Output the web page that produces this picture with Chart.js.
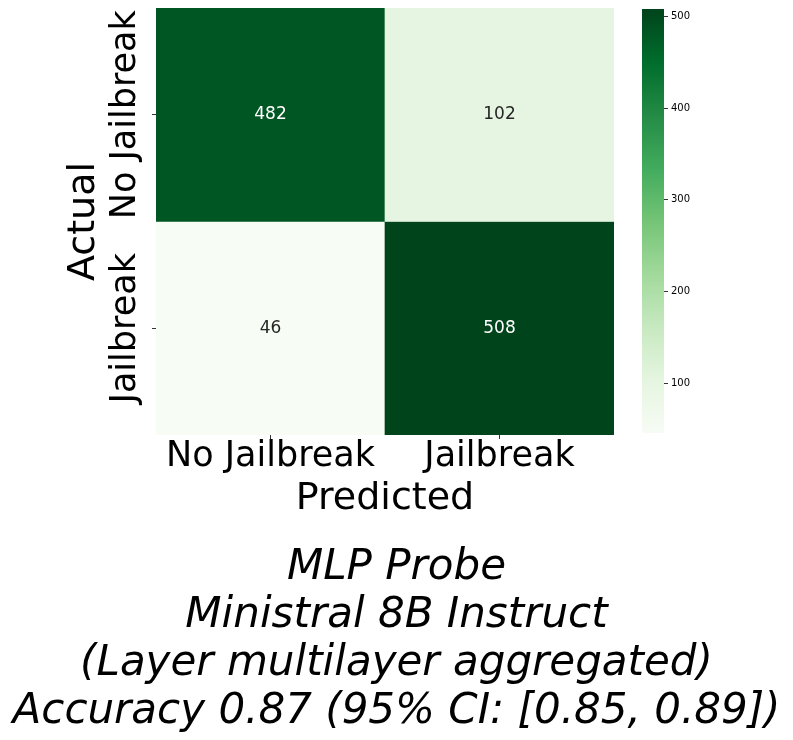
<!DOCTYPE html>
<html lang="en">
<head>
    <meta charset="UTF-8">
    <title>MLP Probe confusion matrix</title>
    <style>
        body {
            margin: 0;
            background-color: #ffffff;
        }
        #wrap {
            position: relative;
            width: 793px;
            height: 740px;
        }
        #matrixChart {
            position: absolute;
            left: 0;
            top: 0;
        }
        #colorbarChart {
            position: absolute;
            left: 600px;
            top: 0;
        }
    </style>
</head>
<body>
    <div id="wrap">
        <canvas id="matrixChart" width="793" height="740"></canvas>
        <canvas id="colorbarChart" width="104" height="445"></canvas>
    </div>

    <script src="https://cdn.jsdelivr.net/npm/chart.js@4.4.3/dist/chart.umd.min.js"></script>

    <script>
        // data
        const predictedLabels = ['No Jailbreak', 'Jailbreak'];
        const actualLabels = ['No Jailbreak', 'Jailbreak'];
        const actualNoJailbreak = [482, 102];
        const actualJailbreak = [46, 508];
        const colorbarTicks = [100, 200, 300, 400, 500];
        const titleLines = [
            'MLP Probe',
            'Ministral 8B Instruct',
            '(Layer multilayer aggregated)',
            'Accuracy 0.87 (95% CI: [0.85, 0.89])'
        ];

        const rows = [actualNoJailbreak, actualJailbreak];
        const vmin = Math.min(...rows.flat());
        const vmax = Math.max(...rows.flat());

        // matplotlib "Greens"
        const greens = ['#f7fcf5', '#e5f5e0', '#c7e9c0', '#a1d99b', '#74c476',
                        '#41ab5d', '#238b45', '#006d2c', '#00441b'];

        function hexToRgb(h) {
            return [parseInt(h.slice(1, 3), 16), parseInt(h.slice(3, 5), 16), parseInt(h.slice(5, 7), 16)];
        }

        function cmap(v) {
            let t = (v - vmin) / (vmax - vmin);
            t = Math.max(0, Math.min(1, t)) * (greens.length - 1);
            const i = Math.min(Math.floor(t), greens.length - 2);
            const f = t - i;
            const a = hexToRgb(greens[i]);
            const b = hexToRgb(greens[i + 1]);
            const c = a.map((x, k) => Math.round(x + (b[k] - x) * f));
            return 'rgb(' + c.join(',') + ')';
        }

        const FONT = "'DejaVu Sans', sans-serif";

        // write the counts in the middle of each cell
        const cellText = {
            id: 'cellText',
            afterDatasetsDraw(chart) {
                const ctx = chart.ctx;
                ctx.save();
                ctx.font = '17px ' + FONT;
                ctx.textAlign = 'center';
                ctx.textBaseline = 'middle';
                chart.data.datasets.forEach((ds, di) => {
                    chart.getDatasetMeta(di).data.forEach((bar, i) => {
                        const v = rows[di][i];
                        const t = (v - vmin) / (vmax - vmin);
                        ctx.fillStyle = t > 0.5 ? '#ffffff' : '#262626';
                        ctx.fillText(String(v), bar.x, (bar.y + bar.base) / 2);
                    });
                });
                ctx.restore();
            }
        };

        const matrixDatasets = rows.map((vals, r) => ({
            label: actualLabels[r],
            data: vals.map(() => [r, r + 1]),
            backgroundColor: vals.map(cmap),
            borderWidth: 0,
            barPercentage: 1,
            categoryPercentage: 1,
            grouped: false
        }));

        new Chart(document.getElementById('matrixChart'), {
            type: 'bar',
            data: { labels: predictedLabels, datasets: matrixDatasets },
            options: {
                responsive: false,
                animation: false,
                layout: { padding: { left: 0, top: 8, right: 0, bottom: 4 } },
                plugins: {
                    legend: { display: false },
                    tooltip: { enabled: false },
                    title: {
                        display: true,
                        position: 'bottom',
                        text: titleLines,
                        color: '#000',
                        padding: { top: 2, bottom: 0 },
                        font: { family: FONT, size: 42, style: 'italic', weight: 'normal', lineHeight: 48 / 42 }
                    }
                },
                scales: {
                    x: {
                        border: { display: false },
                        grid: { offset: false, drawOnChartArea: false, tickLength: 4, color: '#333' },
                        ticks: { color: '#000', padding: 0, font: { family: FONT, size: 35, lineHeight: 1 } },
                        title: {
                            display: true,
                            text: 'Predicted',
                            color: '#000',
                            padding: { top: 0, bottom: 24 },
                            font: { family: FONT, size: 38, lineHeight: 1 }
                        },
                        afterFit(scale) { scale.height = 107; }
                    },
                    y: {
                        min: 0,
                        max: 2,
                        reverse: true,
                        border: { display: false },
                        grid: { drawOnChartArea: false, tickLength: 4, color: '#333' },
                        afterBuildTicks(scale) {
                            scale.ticks = actualLabels.map((_, i) => ({ value: i + 0.5 }));
                        },
                        ticks: {
                            autoSkip: false,
                            minRotation: 90,
                            maxRotation: 90,
                            crossAlign: 'center',
                            padding: -78,
                            color: '#000',
                            font: { family: FONT, size: 35, lineHeight: 1 },
                            callback: (v) => actualLabels[Math.floor(v)]
                        },
                        title: {
                            display: true,
                            text: 'Actual',
                            color: '#000',
                            padding: { top: 65, bottom: 0 },
                            font: { family: FONT, size: 38, lineHeight: 1 }
                        },
                        afterFit(scale) { scale.width = 156; }
                    },
                    // empty box on the right, leaves room for the colour bar
                    // while the title still spans the whole width
                    gap: {
                        type: 'linear',
                        position: 'right',
                        border: { display: false },
                        grid: { display: false },
                        ticks: { display: false },
                        afterFit(scale) { scale.width = 179; }
                    }
                }
            },
            plugins: [cellText]
        });

        // colour bar, drawn as one tall bar on its own value axis
        new Chart(document.getElementById('colorbarChart'), {
            type: 'bar',
            data: {
                labels: [''],
                datasets: [{
                    data: [[vmin, vmax]],
                    borderWidth: 0,
                    barPercentage: 1,
                    categoryPercentage: 1,
                    backgroundColor(context) {
                        const { ctx, chartArea } = context.chart;
                        if (!chartArea) return null;
                        const g = ctx.createLinearGradient(0, chartArea.bottom, 0, chartArea.top);
                        greens.forEach((c, i) => g.addColorStop(i / (greens.length - 1), c));
                        return g;
                    }
                }]
            },
            options: {
                responsive: false,
                animation: false,
                layout: { padding: { left: 42, top: 8, right: 0, bottom: 12 } },
                plugins: { legend: { display: false }, tooltip: { enabled: false } },
                scales: {
                    x: { display: false },
                    y: {
                        position: 'right',
                        min: vmin,
                        max: vmax,
                        border: { display: false },
                        grid: { drawOnChartArea: false, tickLength: 4, color: '#333' },
                        afterBuildTicks(scale) {
                            scale.ticks = colorbarTicks.map((v) => ({ value: v }));
                        },
                        ticks: { padding: 3, color: '#000', font: { family: FONT, size: 10 } },
                        afterFit(scale) { scale.width = 40; }
                    }
                }
            }
        });
    </script>
</body>
</html>
